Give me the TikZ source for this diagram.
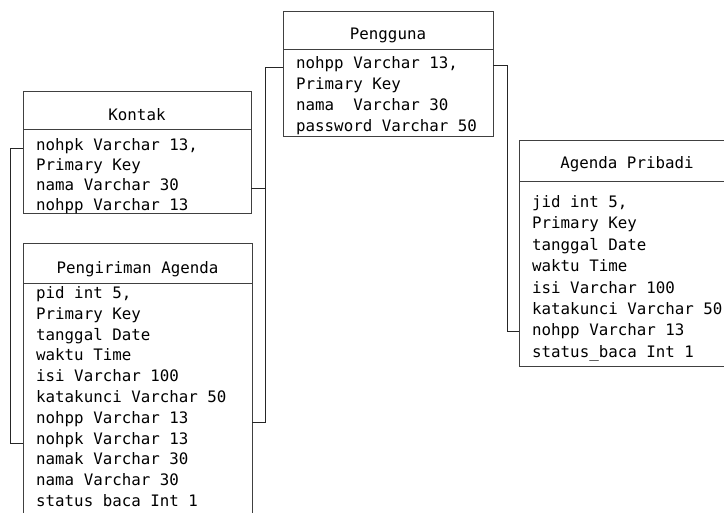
\documentclass[tikz,border=0pt]{standalone}
\usepackage{fontspec}
\usetikzlibrary{calc}
\newfontfamily\monofnt{DejaVu Sans Mono}
\tikzset{
  tbl/.style={draw=black!75, line width=1pt, rectangle, inner sep=0pt, outer sep=0pt, anchor=north west},
  tblline/.style={draw=black!75, line width=1pt},
  row/.style={font={\monofnt\fontsize{15.8pt}{20pt}\selectfont}, anchor=west, inner sep=0pt, text height=11pt, text depth=3pt},
  title/.style={row, anchor=center},
  conn/.style={draw=black!85, line width=1pt},
}
\begin{document}
\begin{tikzpicture}[x=1pt,y=-1pt]
\useasboundingbox (0,0) rectangle (724,513);
\clip (0,0) rectangle (724,513);

% tables
\node[tbl, minimum width=210pt, minimum height=125pt] (pengguna) at (283,12) {};
\node[tbl, minimum width=228pt, minimum height=122pt] (kontak) at (23,92) {};
\node[tbl, minimum width=229pt, minimum height=280pt] (pkrm) at (23,244) {};
\node[tbl, minimum width=216pt, minimum height=226pt] (agenda) at (519,141) {};

% header separators
\draw[tblline] (pengguna.west |- 0,50) -- (pengguna.east |- 0,50);
\draw[tblline] (kontak.west |- 0,130) -- (kontak.east |- 0,130);
\draw[tblline] (pkrm.west |- 0,284) -- (pkrm.east |- 0,284);
\draw[tblline] (agenda.west |- 0,182) -- (agenda.east |- 0,182);

% titles
\node[title] (pengguna-t) at (388,35.5) {Pengguna};
\node[title] (kontak-t) at (137,116.5) {Kontak};
\node[title] (pkrm-t) at (137.5,269.5) {Pengiriman Agenda};
\node[title] (agenda-t) at (627,164.5) {Agenda Pribadi};

% fields
\foreach \t [count=\i] in {{nohpp Varchar 13,},Primary Key,nama\ \ Varchar 30,password Varchar 50}
  \node[row] (pg\i) at (296,{64.5+21*(\i-1)}) {\t};
\foreach \t [count=\i] in {{nohpk Varchar 13,},Primary Key,nama Varchar 30,nohpp Varchar 13}
  \node[row] (kon\i) at (36,{146.5+20*(\i-1)}) {\t};
\foreach \t [count=\i] in {{pid int 5,},Primary Key,tanggal Date,waktu Time,isi Varchar 100,katakunci Varchar 50,nohpp Varchar 13,nohpk Varchar 13,namak Varchar 30,nama Varchar 30,status baca Int 1}
  \node[row] (pk\i) at (36,{294.5+20.8*(\i-1)}) {\t};
\foreach \t [count=\i] in {{jid int 5,},Primary Key,tanggal Date,waktu Time,isi Varchar 100,katakunci Varchar 50,nohpp Varchar 13,status\_baca Int 1}
  \node[row] (ag\i) at (532,{203.5+21.4*(\i-1)}) {\t};

% connector buses
\coordinate (busL) at (10,0);
\coordinate (busM) at (265,0);
\coordinate (busR) at (507,0);

% connector end points
\coordinate (k1) at ($(kontak.west |- kon1)+(0,2)$);
\coordinate (k3) at ($(kontak.east |- kon3)+(0,2)$);
\coordinate (p7) at ($(pkrm.east |- pk7)+(0,3)$);
\coordinate (p8) at ($(pkrm.west |- pk8)+(0,3)$);
\coordinate (g1l) at ($(pengguna.west |- pg1)+(0,3)$);
\coordinate (g1r) at ($(pengguna.east |- pg1)+(0,1)$);
\coordinate (a7) at ($(agenda.west |- ag7)+(0,0)$);

% connectors
\draw[conn] (k1) -- (k1 -| busL) -- (p8 -| busL) -- (p8);
\draw[conn] (g1l) -- (g1l -| busM) -- (p7 -| busM) -- (p7);
\draw[conn] (k3) -- (k3 -| busM);
\draw[conn] (g1r) -- (g1r -| busR) -- (a7 -| busR) -- (a7);
\end{tikzpicture}
\end{document}
